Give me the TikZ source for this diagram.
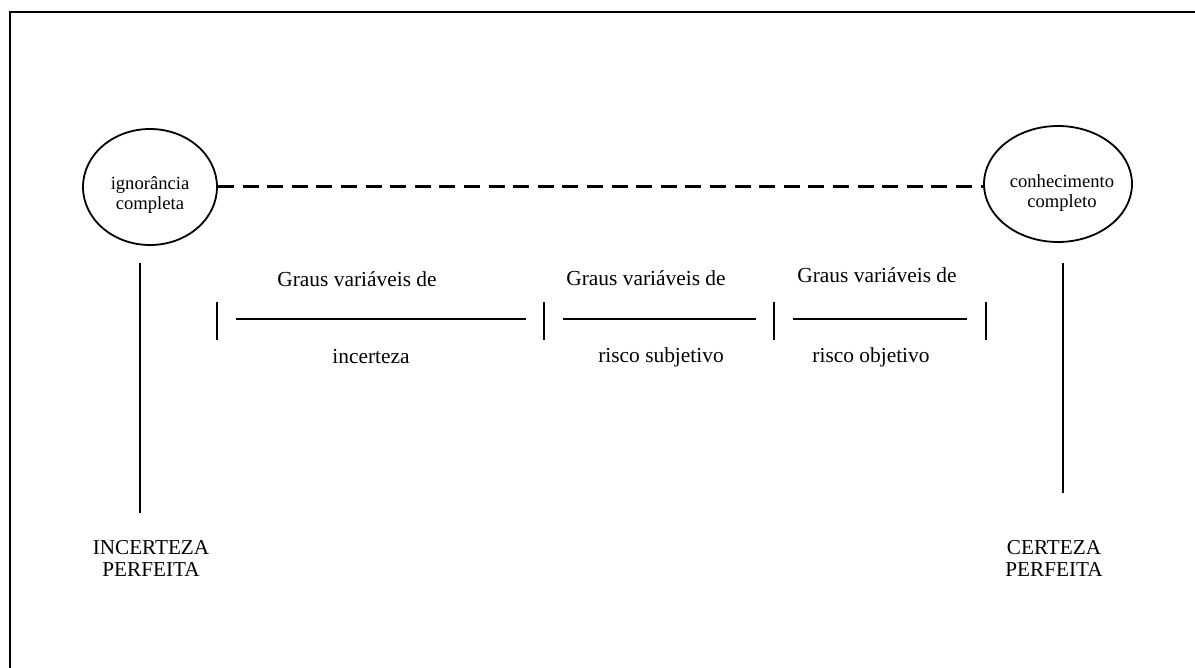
\documentclass[tikz,border=0pt]{standalone}
\usepackage{fontspec}
\setmainfont{Liberation Serif}
\usetikzlibrary{shapes,positioning}

\begin{document}
\begin{tikzpicture}[
    x=0.5pt, y=-0.5pt,
    extreme/.style={draw, ellipse, line width=0.9pt, inner sep=0pt},
    extremetxt/.style={inner sep=0pt, align=center, font=\fontsize{9.3}{10}\selectfont},
    txt/.style={inner sep=0pt, anchor=base, font=\fontsize{10.7}{11}\selectfont},
    endtxt/.style={inner sep=0pt, anchor=north, align=center, font=\fontsize{10.6}{11}\selectfont},
    bar/.style={line width=0.75pt}
]
    \useasboundingbox (0,0) rectangle (1195,668);
    \draw[line width=1.1pt] (10,668) -- (10,12) -- (1195,12);

    \node[extreme, minimum width=67pt, minimum height=58pt] (ign) at (150,187) {};
    \node[extreme, minimum width=74pt, minimum height=58pt] (con) at (1058,184) {};
    \node[extremetxt] (igntxt) at (150,195) {ignorância\\completa};
    \node[extremetxt] (contxt) at (1062,193) {conhecimento\\completo};
    \draw[line width=1.5pt, dash pattern=on 8pt off 4.3pt] (ign.east) -- (ign.east -| con.west);

    \coordinate (igntop) at (140,263);
    \coordinate (ignbot) at (140,513);
    \coordinate (contop) at (1063,263);
    \coordinate (conbot) at (1063,493);
    \draw[bar] (igntop) -- (ignbot);
    \draw[bar] (contop) -- (conbot);

    \foreach \x in {217,544,774,986}
        \draw[bar] (\x,302) -- (\x,340);
    \foreach \a/\b in {236/526,563/756,793/967}
        \draw[bar] (\a,319) -- (\b,319);

    \node[txt] (graus1) at (357,287) {Graus variáveis de};
    \node[txt] (graus2) at (646,286) {Graus variáveis de};
    \node[txt] (graus3) at (877,283) {Graus variáveis de};
    \node[txt] (incert) at (371,364) {incerteza};
    \node[txt] (rsubj) at (661,363) {risco subjetivo};
    \node[txt] (robj) at (871,363) {risco objetivo};

    \node[endtxt] (incperf) at (151,540) {INCERTEZA\\PERFEITA};
    \node[endtxt] (cerperf) at (1054,540) {CERTEZA\\PERFEITA};
\end{tikzpicture}
\end{document}
